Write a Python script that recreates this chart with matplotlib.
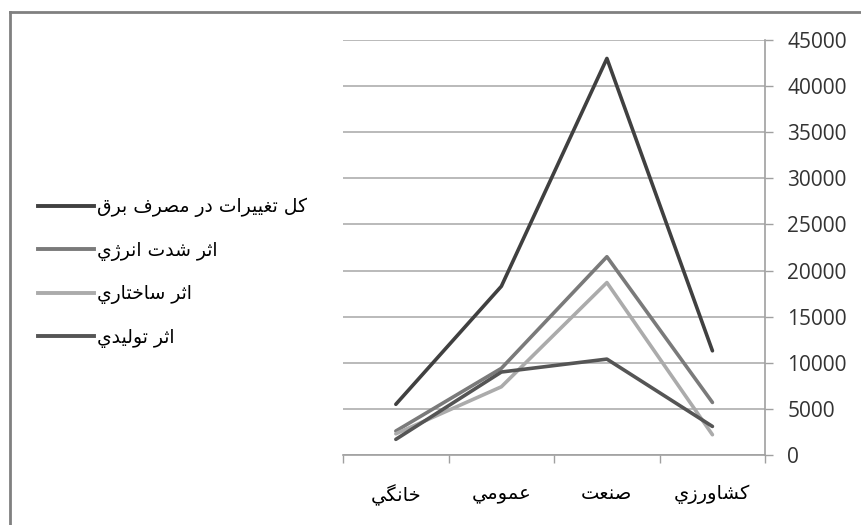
import numpy as np
import matplotlib.pyplot as plt
from matplotlib.lines import Line2D

# data, left to right as drawn
categories = ['خانگي', 'عمومي', 'صنعت', 'كشاورزي']
total_change = [5500, 18300, 43000, 11300]
intensity_effect = [2600, 9400, 21500, 5700]
structural_effect = [2300, 7400, 18700, 2200]
production_effect = [1700, 9000, 10400, 3100]

series_names = ['كل تغييرات در مصرف برق', 'اثر شدت انرژي', 'اثر ساختاري', 'اثر توليدي']
yticks = [0, 5000, 10000, 15000, 20000, 25000, 30000, 35000, 40000, 45000]

# matplotlib does no arabic shaping, so pick the presentation forms by hand
# (isolated, final, initial, medial); right-joining letters have only two
FORMS = {
    'ا': (0xFE8D, 0xFE8E), 'ب': (0xFE8F, 0xFE90, 0xFE91, 0xFE92),
    'ت': (0xFE95, 0xFE96, 0xFE97, 0xFE98), 'ث': (0xFE99, 0xFE9A, 0xFE9B, 0xFE9C),
    'خ': (0xFEA5, 0xFEA6, 0xFEA7, 0xFEA8), 'د': (0xFEA9, 0xFEAA),
    'ر': (0xFEAD, 0xFEAE), 'ز': (0xFEAF, 0xFEB0),
    'س': (0xFEB1, 0xFEB2, 0xFEB3, 0xFEB4), 'ش': (0xFEB5, 0xFEB6, 0xFEB7, 0xFEB8),
    'ص': (0xFEB9, 0xFEBA, 0xFEBB, 0xFEBC), 'ع': (0xFEC9, 0xFECA, 0xFECB, 0xFECC),
    'غ': (0xFECD, 0xFECE, 0xFECF, 0xFED0), 'ف': (0xFED1, 0xFED2, 0xFED3, 0xFED4),
    'ق': (0xFED5, 0xFED6, 0xFED7, 0xFED8), 'ك': (0xFED9, 0xFEDA, 0xFEDB, 0xFEDC),
    'ل': (0xFEDD, 0xFEDE, 0xFEDF, 0xFEE0), 'م': (0xFEE1, 0xFEE2, 0xFEE3, 0xFEE4),
    'ن': (0xFEE5, 0xFEE6, 0xFEE7, 0xFEE8), 'و': (0xFEED, 0xFEEE),
    'ي': (0xFEF1, 0xFEF2, 0xFEF3, 0xFEF4), 'ژ': (0xFB8A, 0xFB8B),
    'گ': (0xFB92, 0xFB93, 0xFB94, 0xFB95),
}


def shape(text):
    out = []
    for i, ch in enumerate(text):
        if ch not in FORMS:
            out.append(ch)
            continue
        prev = text[i - 1] if i > 0 else ' '
        nxt = text[i + 1] if i + 1 < len(text) else ' '
        join_prev = prev in FORMS and len(FORMS[prev]) == 4
        join_next = len(FORMS[ch]) == 4 and nxt in FORMS
        f = FORMS[ch]
        if join_prev and join_next:
            out.append(chr(f[3]))
        elif join_prev:
            out.append(chr(f[1]))
        elif join_next:
            out.append(chr(f[2]))
        else:
            out.append(chr(f[0]))
    return ''.join(out)[::-1]


plt.rcParams['font.family'] = ['DejaVu Sans']

fig = plt.figure(figsize=(8.62, 5.25), dpi=100)
ax = fig.add_axes([0.398, 0.1333, 0.4897, 0.7905])

x = np.arange(len(categories))
colors = ['#404040', '#7a7a7a', '#ababab', '#555555']
all_series = [total_change, intensity_effect, structural_effect, production_effect]
for vals, c in zip(all_series, colors):
    ax.plot(x, vals, color=c, lw=2.6, solid_capstyle='round')

ax.set_xlim(-0.5, 3.5)
ax.set_ylim(0, 45000)
ax.set_yticks(yticks)
ax.yaxis.tick_right()
ax.set_yticklabels([str(v) for v in yticks], family='Open Sans', fontsize=15)
ax.tick_params(axis='y', length=6, width=1, color='#a0a0a0', pad=10, labelcolor='#333333')
ax.yaxis.grid(True, color='#b4b4b4', lw=1.3)
ax.set_axisbelow(True)

ax.set_xticks(x)
ax.set_xticklabels([shape(c) for c in categories], fontsize=14)
ax.set_xticks(np.arange(-0.5, 4, 1), minor=True)
ax.tick_params(axis='x', which='major', length=0, pad=21)
ax.tick_params(axis='x', which='minor', length=6, width=1, color='#a0a0a0')

for s in ['left', 'top']:
    ax.spines[s].set_visible(False)
for s in ['right', 'bottom']:
    ax.spines[s].set_color('#a0a0a0')
    ax.spines[s].set_linewidth(1.2)

handles = [Line2D([], [], color=c, lw=2.8) for c in colors]
fig.legend(handles, [shape(n) for n in series_names], loc='center left',
           bbox_to_anchor=(0.024, 0.481), frameon=False, fontsize=13.5,
           handlelength=3.0, handletextpad=0.15, labelspacing=1.25)

# outer frame (only top and left edges show)
fig.add_artist(Line2D([0.0116, 0.0116], [0.0, 0.977], color='#808080', lw=2))
fig.add_artist(Line2D([0.0116, 1.0], [0.977, 0.977], color='#808080', lw=2))

fig.savefig('out.png', dpi=100)
